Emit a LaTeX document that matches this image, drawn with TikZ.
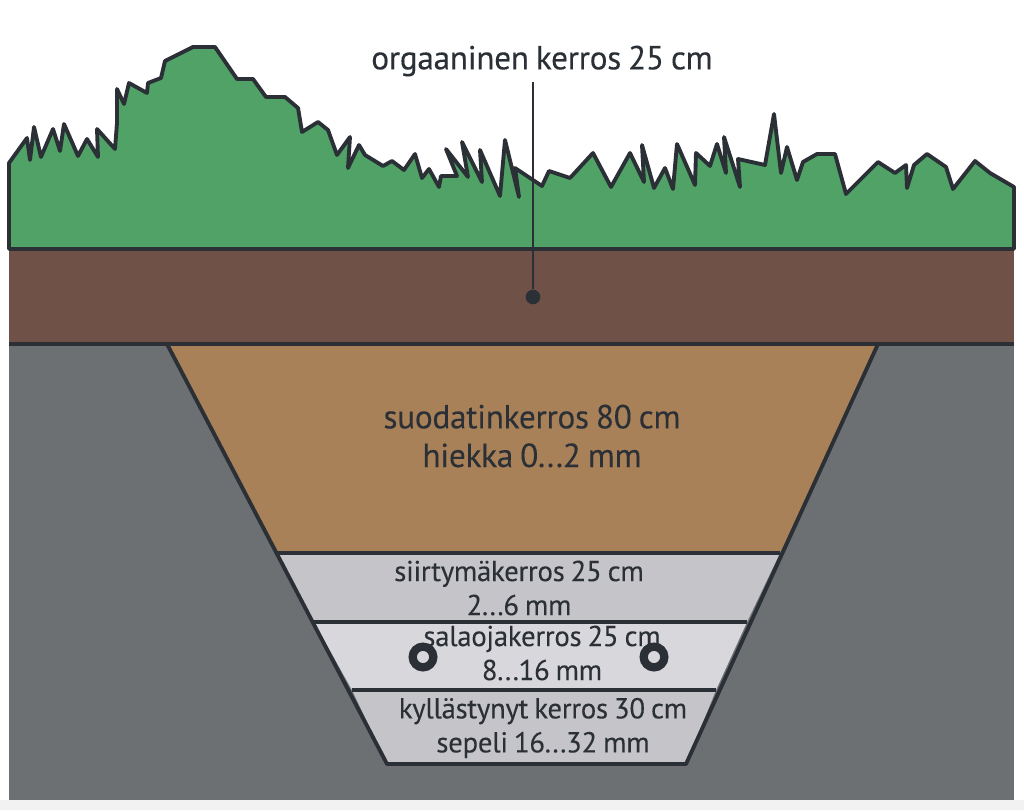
\documentclass[tikz,border=0pt]{standalone}
\usepackage{fontspec}
\setmainfont{PT Sans}[WordSpace=0.8,LetterSpace=-1,FakeBold=0.15]
\definecolor{grass}{HTML}{50A267}
\definecolor{soil}{HTML}{6F5147}
\definecolor{ground}{HTML}{6D7073}
\definecolor{sand}{HTML}{A98159}
\definecolor{gravel}{HTML}{C5C5C9}
\definecolor{drain}{HTML}{D8D8DC}
\definecolor{ink}{HTML}{2B3036}
\definecolor{strip}{HTML}{F2F2F2}
\tikzset{
  edge/.style={draw=ink, line width=2.9pt, line join=round},
  biglabel/.style={text=ink, align=center, font=\fontsize{25}{29}\selectfont},
  smalllabel/.style={text=ink, align=center, font=\fontsize{21.6}{25.5}\selectfont},
  pipe/.style={circle, draw=ink, line width=6.2pt, fill=drain, minimum size=15.5pt, inner sep=0pt}
}
\begin{document}
\begin{tikzpicture}[x=.75pt,y=-.75pt]
    \useasboundingbox (0,0) rectangle (1024,810);
    \fill[white] (0,0) rectangle (1024,810);
    \fill[strip] (0,800) rectangle (1024,810);

    % layers of soil
    \fill[ground] (9,344) rectangle (1014,800);
    \fill[soil] (9,249) rectangle (1014,344);
    \fill[sand] (167,344) -- (878,344) -- (780,553) -- (277,553) -- cycle;
    \fill[gravel] (277,553) -- (780,553) -- (747,622) -- (314,622) -- cycle;
    \fill[drain] (314,622) -- (747,622) -- (716,690) -- (352,690) -- cycle;
    \fill[gravel] (352,690) -- (716,690) -- (686,764) -- (387,764) -- cycle;

    \draw[edge, fill=grass] (9,249) -- (9,163) -- (27,138) -- (30,160) -- (34,127) -- (41,157)
      -- (53,129) -- (60,151) -- (64,124) -- (78,156) -- (87,139) -- (98,157) -- (97,129)
      -- (115,149) -- (117,123) -- (117,89) -- (124,104) -- (129,83) -- (147,93) -- (148,83)
      -- (161,78) -- (165,61) -- (193,47) -- (215,47) -- (237,79) -- (253,79) -- (266,97)
      -- (285,97) -- (298,108) -- (302,132) -- (318,122) -- (328,130) -- (337,155) -- (350,137)
      -- (348,168) -- (359,145) -- (365,155) -- (383,166) -- (392,161) -- (404,170) -- (415,154)
      -- (422,178) -- (429,169) -- (439,187) -- (441,176) -- (457,176) -- (446,149) -- (468,177)
      -- (462,142) -- (482,182) -- (480,150) -- (500,196) -- (505,140) -- (519,197) -- (515,168)
      -- (542,186) -- (549,171) -- (570,178) -- (593,153) -- (611,187) -- (630,153) -- (644,182)
      -- (642,145) -- (654,188) -- (665,168) -- (673,189) -- (677,144) -- (695,185) -- (696,153)
      -- (710,166) -- (717,144) -- (726,173) -- (724,137) -- (740,187) -- (738,159) -- (765,165)
      -- (774,114) -- (781,173) -- (787,147) -- (797,180) -- (803,162) -- (817,154) -- (835,154)
      -- (846,194) -- (878,162) -- (895,173) -- (906,165) -- (907,188) -- (914,165) -- (927,154)
      -- (946,167) -- (953,189) -- (975,161) -- (990,173) -- (1014,187) -- (1014,249) -- cycle;
    \draw[edge] (9,344) -- (1014,344);

    % the trench
    \draw[edge] (167,344) -- (387,764) -- (686,764) -- (878,344);
    \draw[edge] (277,553) -- (780,553);
    \draw[edge] (314,622) -- (747,622);
    \draw[edge] (352,690) -- (716,690);

    \node[pipe] (pipeleft) at (423,657) {};
    \node[pipe] (piperight) at (654,657) {};

    \node[biglabel] (organic) at (542,61) {orgaaninen kerros 25 cm};
    \node[biglabel] (filter) at (532,436) {suodatinkerros 80 cm\\hiekka 0...2 mm};
    \node[smalllabel] (transition) at (519,588) {siirtymäkerros 25 cm\\2...6 mm};
    \node[smalllabel] (drainage) at (542,653) {salaojakerros 25 cm\\8...16 mm};
    \node[smalllabel] (saturated) at (543,728) {kyllästynyt kerros 30 cm\\sepeli 16...32 mm};

    % leader of the top label
    \node[circle, fill=ink, minimum size=11pt, inner sep=0pt] (dot) at (533,297) {};
    \draw[ink, line width=1.2pt] (533,82) coordinate (leadtop) -- (dot);
\end{tikzpicture}
\end{document}
